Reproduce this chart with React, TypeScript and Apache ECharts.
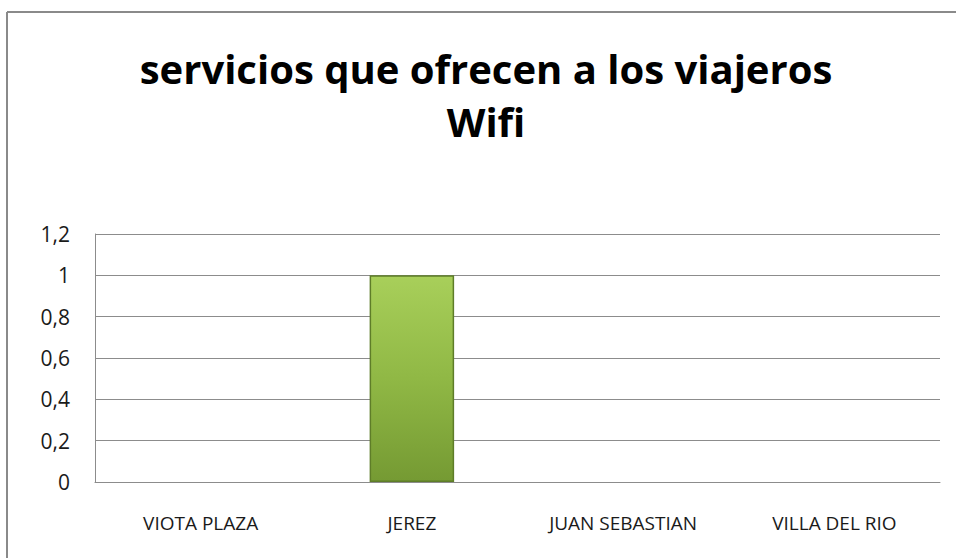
import React, { useEffect, useRef } from "react";
import * as echarts from "echarts";

const titleLines = ["servicios que ofrecen a los viajeros", "Wifi"];
const categories = ["VIOTA PLAZA", "JEREZ", "JUAN SEBASTIAN", "VILLA DEL RIO"];
const values = [0, 1, 0, 0];
const yTicks = { min: 0, max: 1.2, interval: 0.2 };

export default function App() {
  const ref = useRef<HTMLDivElement>(null);
  useEffect(() => {
    const chart = echarts.init(ref.current!, undefined, { renderer: "svg" });
    chart.setOption({
      animation: false,
      backgroundColor: "#ffffff",
      graphic: [
        { type: "line", shape: { x1: 7, y1: 12, x2: 956, y2: 12 }, style: { stroke: "#8a8a8a", lineWidth: 2 } },
        { type: "line", shape: { x1: 7, y1: 12, x2: 7, y2: 558 }, style: { stroke: "#8a8a8a", lineWidth: 2 } },
        {
          type: "text",
          x: 486,
          y: 95,
          style: {
            text: titleLines.join("\n"),
            fontFamily: "Open Sans",
            fontWeight: "bold",
            fontSize: 40,
            lineHeight: 53,
            fill: "#000000",
            align: "center",
            verticalAlign: "middle",
          },
        },
      ],
      grid: { left: 95, right: 16, top: 234, bottom: 76, containLabel: false },
      xAxis: {
        type: "category",
        data: categories,
        axisLine: { show: true, lineStyle: { color: "#8c8c8c", width: 1 } },
        axisTick: { show: false },
        axisLabel: {
          margin: 31,
          fontFamily: "Open Sans",
          fontSize: 19,
          color: "#1a1a1a",
        },
      },
      yAxis: {
        type: "value",
        min: yTicks.min,
        max: yTicks.max,
        interval: yTicks.interval,
        axisLine: { show: true, lineStyle: { color: "#8c8c8c", width: 1 } },
        axisTick: { show: false },
        splitLine: { show: true, lineStyle: { color: "#8c8c8c", width: 1 } },
        axisLabel: {
          margin: 25,
          fontFamily: "Open Sans",
          fontSize: 21,
          color: "#1a1a1a",
          formatter: (v: number) => String(Math.round(v * 10) / 10).replace(".", ","),
        },
      },
      series: [
        {
          type: "bar",
          data: values.map((v) => ({
            value: v,
            itemStyle: v === 0 ? { borderWidth: 0, opacity: 0 } : undefined,
          })),
          barWidth: "40%",
          itemStyle: {
            color: new echarts.graphic.LinearGradient(0, 0, 0, 1, [
              { offset: 0, color: "#a8cf5a" },
              { offset: 0.5, color: "#90b845" },
              { offset: 1, color: "#759a33" },
            ]),
            borderColor: "#5e7d28",
            borderWidth: 1.5,
          },
        },
      ],
    });
    return () => chart.dispose();
  }, []);
  return (
    <div
      ref={ref}
      style={{ position: "fixed", left: 0, top: 0, width: 956, height: 558 }}
    />
  );
}
